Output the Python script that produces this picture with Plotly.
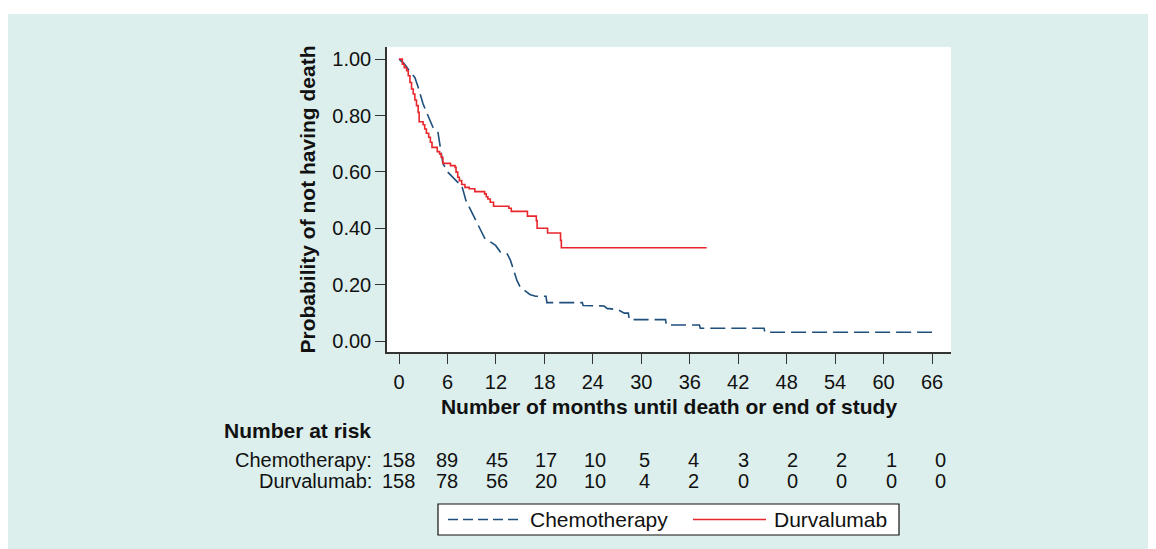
import plotly.graph_objects as go

# ---------------- data ----------------
chemo_months = [0, 0.6, 1.27, 1.96, 2.37, 2.98, 3.59, 4.20, 4.82, 5.02, 5.22, 5.43, 6.04, 6.65,
                7.27, 7.67, 7.88, 8.29, 8.90, 9.51, 10.1, 10.65, 11.35, 11.96, 12.57, 13.4,
                13.8, 14.2, 14.6, 15.0, 15.6, 16.2, 16.9, 18.2, 18.3, 22.7, 22.8, 25.4, 25.8,
                26.0, 27.1, 27.9, 28.4, 28.5, 33.0, 33.1, 37.2, 37.3, 45.2, 45.3, 66.0]
chemo_surv = [1.0, 0.985, 0.959, 0.935, 0.900, 0.841, 0.799, 0.758, 0.740, 0.705, 0.664, 0.630,
              0.599, 0.581, 0.563, 0.557, 0.540, 0.498, 0.463, 0.427, 0.392, 0.362, 0.351,
              0.339, 0.315, 0.309, 0.286, 0.250, 0.215, 0.191, 0.177, 0.165, 0.159, 0.159,
              0.136, 0.136, 0.126, 0.124, 0.115, 0.115, 0.111, 0.099, 0.099, 0.076, 0.076,
              0.057, 0.057, 0.045, 0.045, 0.031, 0.031]

durva_months = [0, 0.41, 0.65, 0.94, 1.14, 1.35, 1.55, 1.76, 1.96, 2.16, 2.37, 2.49, 2.98, 3.18,
                3.39, 3.67, 3.88, 4.08, 4.73, 5.02, 5.22, 5.43, 6.37, 6.94, 7.06, 7.27, 7.47,
                7.76, 8.16, 8.69, 9.39, 10.6, 10.8, 11.0, 11.3, 11.7, 13.6, 13.9, 15.9, 17.0,
                17.1, 18.4, 20.0, 20.1, 38.1]
durva_surv = [1.0, 0.982, 0.970, 0.959, 0.941, 0.917, 0.894, 0.876, 0.855, 0.835, 0.811, 0.778,
              0.767, 0.752, 0.737, 0.723, 0.705, 0.687, 0.672, 0.664, 0.652, 0.630, 0.622,
              0.616, 0.599, 0.581, 0.569, 0.555, 0.545, 0.540, 0.530, 0.522, 0.512, 0.504,
              0.492, 0.478, 0.471, 0.460, 0.443, 0.427, 0.400, 0.383, 0.357, 0.331, 0.331]

x_ticks = [0, 6, 12, 18, 24, 30, 36, 42, 48, 54, 60, 66]
y_ticks = [0.0, 0.2, 0.4, 0.6, 0.8, 1.0]

risk_groups = ["Chemotherapy:", "Durvalumab:"]
risk_chemo = [158, 89, 45, 17, 10, 5, 4, 3, 2, 2, 1, 0]
risk_durva = [158, 78, 56, 20, 10, 4, 2, 0, 0, 0, 0, 0]

series_names = ["Chemotherapy", "Durvalumab"]

# ---------------- style ----------------
OFF = 8                                   # page body margin in the browser
W_FIG, H_FIG = 1156, 549
L, R, T, B = 387, 951, 47, 352            # plot area in screen pixels
BG = "#dcefec"
BLUE = "#1f4f7d"
RED = "#e8262b"
AX = "#333333"
FONT = "Liberation Sans, Arial, Helvetica, sans-serif"


def px(x):
    return (x - L) / (R - L)


def py(y):
    return (B - y) / (B - T)


fig = go.Figure()
fig.add_trace(go.Scatter(x=chemo_months, y=chemo_surv, mode="lines", name=series_names[0],
                         line=dict(color=BLUE, width=1.6, dash="15px,6px"),
                         showlegend=False))
fig.add_trace(go.Scatter(x=durva_months, y=durva_surv, mode="lines", name=series_names[1],
                         line=dict(color=RED, width=1.6, shape="hv"),
                         showlegend=False))

shapes = [
    # white strip above the mint panel
    dict(type="rect", xref="paper", yref="paper", x0=px(OFF), x1=px(1170), y0=py(14), y1=py(OFF),
         fillcolor="white", line_width=0, layer="below"),
    # legend box
    dict(type="rect", xref="paper", yref="paper", x0=px(438), x1=px(899), y0=py(535), y1=py(504),
         fillcolor="white", line=dict(color="#111111", width=1.2)),
    dict(type="line", xref="paper", yref="paper", x0=px(448), x1=px(522), y0=py(519.5), y1=py(519.5),
         line=dict(color=BLUE, width=1.6, dash="10px,5px")),
    dict(type="line", xref="paper", yref="paper", x0=px(693), x1=px(766), y0=py(519.5), y1=py(519.5),
         line=dict(color=RED, width=1.6)),
]

ann = []
ann.append(dict(text="<b>Number at risk</b>", xref="paper", yref="paper", x=px(222), y=py(431),
                xanchor="left", yanchor="middle", showarrow=False, font=dict(size=21, color="#111")))
row_y = [459.5, 480.5]
rows = [risk_chemo, risk_durva]
for gi, g in enumerate(risk_groups):
    ann.append(dict(text=g, xref="paper", yref="paper", x=px(374), y=py(row_y[gi]),
                    xanchor="right", yanchor="middle", showarrow=False,
                    font=dict(size=20, color="#111")))
    for i, v in enumerate(rows[gi]):
        ann.append(dict(text=str(v), xref="paper", yref="paper", x=px(398 + i * 49.3),
                        y=py(row_y[gi]), xanchor="center", yanchor="middle", showarrow=False,
                        font=dict(size=20, color="#111")))
ann.append(dict(text=series_names[0], xref="paper", yref="paper", x=px(528), y=py(519.5),
                xanchor="left", yanchor="middle", showarrow=False, font=dict(size=21, color="#111")))
ann.append(dict(text=series_names[1], xref="paper", yref="paper", x=px(772), y=py(519.5),
                xanchor="left", yanchor="middle", showarrow=False, font=dict(size=21, color="#111")))

fig.update_layout(
    width=W_FIG, height=H_FIG,
    margin=dict(l=L - OFF, r=W_FIG - (R - OFF), t=T - OFF, b=H_FIG - (B - OFF), pad=0),
    paper_bgcolor=BG, plot_bgcolor="white",
    font=dict(family=FONT, size=20, color="#111"),
    shapes=shapes, annotations=ann,
    xaxis=dict(range=[-1.49, 68.35], tickvals=x_ticks, ticks="outside", ticklen=10,
               tickwidth=1.3, tickcolor=AX, showline=True, linecolor=AX, linewidth=1.5,
               showgrid=False, zeroline=False, tickfont=dict(size=20),
               ticklabelstandoff=1,
               title=dict(text="<b>Number of months until death or end of study</b>",
                          font=dict(size=21), standoff=8)),
    yaxis=dict(range=[-0.039, 1.043], tickvals=y_ticks, tickformat=".2f", ticks="outside",
               ticklen=10, tickwidth=1.3, tickcolor=AX, showline=True, linecolor=AX,
               linewidth=1.5, showgrid=False, zeroline=False, tickfont=dict(size=20),
               ticklabelstandoff=0,
               title=dict(text="<b>Probability of not having death</b>",
                          font=dict(size=21), standoff=11)),
)

fig.write_html("out.html")
